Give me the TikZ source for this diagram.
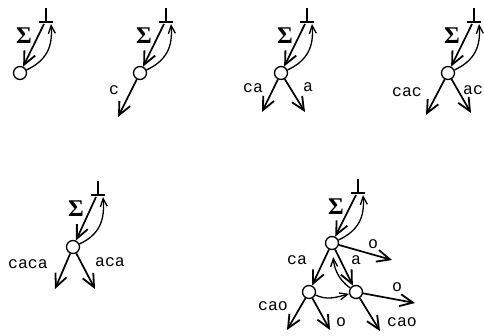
\documentclass[tikz,border=0pt]{standalone}
\usepackage{fontspec}
\setmonofont{Liberation Mono}
\newfontfamily\sigfont{Liberation Serif}
\usetikzlibrary{arrows.meta}
\tikzset{
  arr/.style={line width=1.7pt, -{Straight Barb[length=13pt,width=12pt,line width=1.8pt]}},
  carr/.style={line width=1.3pt, -{Straight Barb[length=8pt,width=7pt,line width=1.3pt]}},
  st/.style={circle, draw, line width=1.3pt, minimum size=13pt, inner sep=0pt, fill=white},
  lab/.style={font=\fontsize{16.5}{16.5}\selectfont\ttfamily, inner sep=0pt},
  sig/.style={font=\fontsize{24}{24}\selectfont\sigfont\bfseries, inner sep=0pt},
  botline/.style={line width=1.7pt},
}
\newcommand{\botsym}[1]{%
  \draw[botline] ([yshift=14pt]#1) -- (#1);
  \draw[botline] ([xshift=-7pt]#1) -- ([xshift=7pt]#1);}
\newcommand{\topstruct}[2]{%
  \botsym{#1}
  \draw[arr] ([shift={(-2pt,-2pt)}]#1) -- (#2);
  \draw[carr] (#2) to[out=25,in=-85,looseness=1.1] ([shift={(5pt,-2pt)}]#1);
  \node[sig] at ([shift={(-22pt,-14pt)}]#1) {Σ};}
\begin{document}
\begin{tikzpicture}[x=1pt,y=1pt]
\useasboundingbox (0,0) rectangle (484,-335);
% panel 1
\coordinate (b1) at (46,-22);
\node[st] (c1) at (20,-73) {};
\topstruct{b1}{c1}
% panel 2
\coordinate (b2) at (166,-22);
\node[st] (c2) at (140,-73) {};
\topstruct{b2}{c2}
\coordinate (e2) at (118,-117);
\draw[arr] (c2) -- (e2);
\node[lab] at (114,-90) {c};
% panel 3
\coordinate (b3) at (307,-22);
\node[st] (c3) at (281,-73) {};
\topstruct{b3}{c3}
\coordinate (e3a) at (262,-112);
\coordinate (e3b) at (305,-112);
\draw[arr] (c3) -- (e3a);
\draw[arr] (c3) -- (e3b);
\node[lab] at (253,-88) {ca};
\node[lab] at (308,-87) {a};
% panel 4
\coordinate (b4) at (474,-22);
\node[st] (c4) at (448,-73) {};
\topstruct{b4}{c4}
\coordinate (e4a) at (426,-115);
\coordinate (e4b) at (471,-113);
\draw[arr] (c4) -- (e4a);
\draw[arr] (c4) -- (e4b);
\node[lab] at (407,-92) {cac};
\node[lab,anchor=west] at (463,-90) {ac};
% panel 5
\coordinate (b5) at (98,-195);
\node[st] (c5) at (73,-247) {};
\topstruct{b5}{c5}
\coordinate (e5a) at (55,-289);
\coordinate (e5b) at (95,-289);
\draw[arr] (c5) -- (e5a);
\draw[arr] (c5) -- (e5b);
\node[lab] at (28,-264) {caca};
\node[lab] at (110,-262) {aca};
% panel 6
\coordinate (b6) at (358,-193);
\node[st] (t6) at (332,-243) {};
\node[st] (l6) at (309,-292) {};
\node[st] (r6) at (356,-292) {};
\topstruct{b6}{t6}
\coordinate (o1) at (392,-260);
\coordinate (o2) at (415,-303);
\coordinate (e6a) at (287,-330);
\coordinate (e6b) at (330,-330);
\coordinate (e6c) at (380,-331);
\draw[arr] (t6) -- (o1);
\draw[arr] (t6) -- (l6);
\draw[arr] (t6) -- (r6);
\draw[arr] (r6) -- (o2);
\draw[arr] (l6) -- (e6a);
\draw[arr] (l6) -- (e6b);
\draw[arr] (r6) -- (e6c);
\draw[carr] (l6) to[out=-25,in=195] (r6);
\draw[carr, shorten >=7pt] (r6) to[out=145,in=-85] (t6);
\node[lab] at (297,-260) {ca};
\node[lab] at (356,-260) {a};
\node[lab] at (373,-244) {o};
\node[lab] at (397,-287) {o};
\node[lab] at (273,-306) {cao};
\node[lab] at (341,-322) {o};
\node[lab] at (402,-322) {cao};
\end{tikzpicture}
\end{document}
